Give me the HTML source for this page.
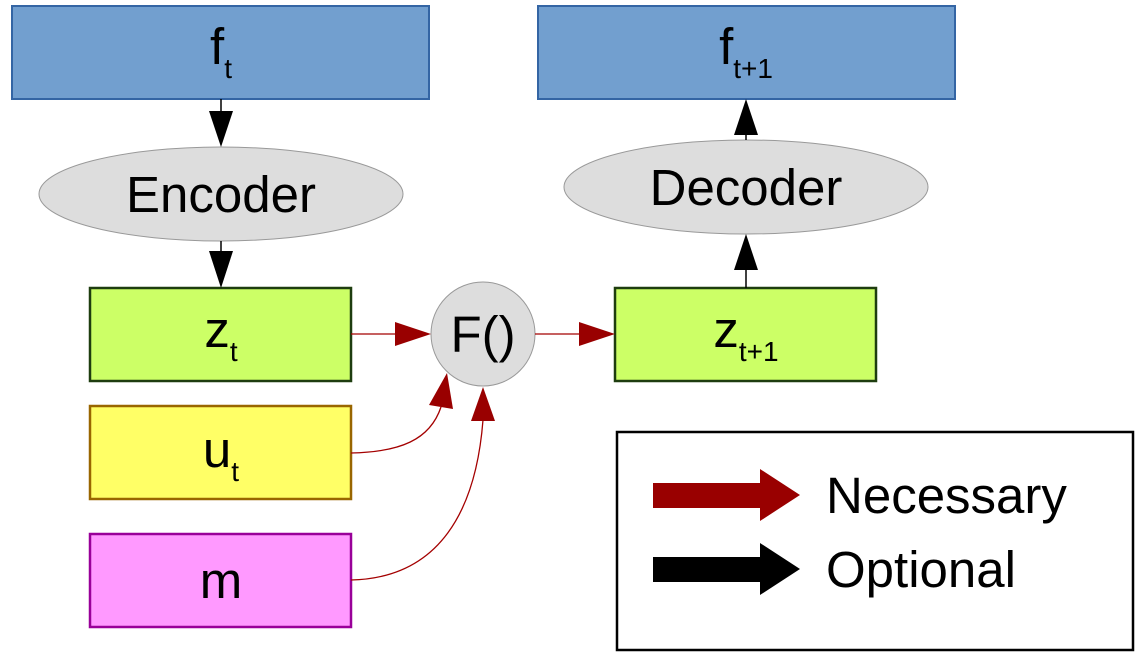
<!DOCTYPE html>
<html><head><meta charset="utf-8"><style>html,body{margin:0;padding:0;background:#fff}svg{display:block}</style></head><body>
<svg width="1140" height="656" viewBox="0 0 1140 656" xmlns="http://www.w3.org/2000/svg" font-family="Liberation Sans, sans-serif">
<rect x="12" y="6" width="417" height="93" fill="#729fcf" stroke="#3465a4" stroke-width="2"/>
<rect x="538" y="6" width="417" height="93" fill="#729fcf" stroke="#3465a4" stroke-width="2"/>
<ellipse cx="221" cy="194" rx="182" ry="47" fill="#dddddd" stroke="#999" stroke-width="1"/>
<ellipse cx="746" cy="187" rx="182" ry="47" fill="#dddddd" stroke="#999" stroke-width="1"/>
<rect x="90" y="288" width="261" height="93" fill="#ccff66" stroke="#1e3d0f" stroke-width="2.5"/>
<rect x="615" y="288" width="261" height="93" fill="#ccff66" stroke="#1e3d0f" stroke-width="2.5"/>
<rect x="90" y="406" width="261" height="93" fill="#ffff66" stroke="#996600" stroke-width="2.5"/>
<rect x="90" y="534" width="261" height="93" fill="#ff99ff" stroke="#990099" stroke-width="2.5"/>
<circle cx="483" cy="334" r="52" fill="#dddddd" stroke="#999" stroke-width="1"/>
<rect x="617" y="432" width="516" height="218" fill="#fff" stroke="#000" stroke-width="2.5"/>
<g stroke="#000" stroke-width="1.5" fill="#000">
<line x1="221" y1="99" x2="221" y2="112"/><polygon stroke="none" points="209,111 233,111 221,147"/>
<line x1="221" y1="241" x2="221" y2="252"/><polygon stroke="none" points="209,251 233,251 221,288"/>
<line x1="746" y1="288" x2="746" y2="269"/><polygon stroke="none" points="734,270 758,270 746,234"/>
<line x1="746" y1="140" x2="746" y2="134"/><polygon stroke="none" points="734,135 758,135 746,99"/>
</g>
<g stroke="#a40000" stroke-width="1.3" fill="none">
<line x1="351" y1="334" x2="396" y2="334"/>
<line x1="535" y1="334" x2="580" y2="334"/>
<path d="M351,453 C400,452 430,440 441,407"/>
<path d="M351,580 C440,578 476,510 483,420"/>
</g>
<g fill="#990000">
<polygon points="395,322 395,346 431,334"/>
<polygon points="579,322 579,346 615,334"/>
<polygon points="429,405 453,409 447,373"/>
<polygon points="471,421 495,421 483,387"/>
<polygon points="653,483 760,483 760,469 800,495 760,521 760,508 653,508"/>
</g>
<polygon fill="#000" points="653,557 760,557 760,543 800,569 760,595 760,582 653,582"/>
<g fill="#000" font-size="51" text-anchor="middle">
<text x="221" y="212">Encoder</text>
<text x="746" y="205">Decoder</text>
<text x="483" y="352">F()</text>
<text x="221" y="64">f<tspan font-size="28" dy="14">t</tspan></text>
<text x="746" y="64">f<tspan font-size="28" dy="14">t+1</tspan></text>
<text x="221" y="347">z<tspan font-size="28" dy="14">t</tspan></text>
<text x="746" y="347">z<tspan font-size="28" dy="14">t+1</tspan></text>
<text x="221" y="467">u<tspan font-size="28" dy="14">t</tspan></text>
<text x="221" y="598">m</text>
</g>
<g fill="#000" font-size="51">
<text x="826" y="513">Necessary</text>
<text x="826" y="587">Optional</text>
</g>
</svg>
</body></html>
